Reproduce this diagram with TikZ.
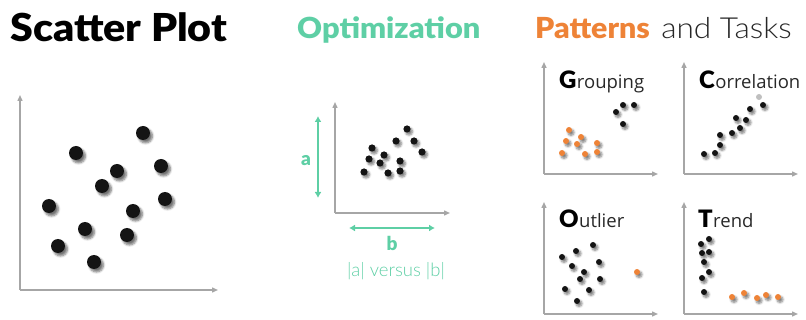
\documentclass[tikz,border=0pt]{standalone}
\usepackage{fontspec}
\setmainfont{Liberation Sans}
\newfontfamily\lightfont{Lato Light}
\newfontfamily\heavyfont{Lato Black}
\newfontfamily\labelfont{Open Sans}
\usetikzlibrary{arrows.meta,shadows.blur}

\definecolor{teal}{RGB}{94,207,165}
\definecolor{accent}{RGB}{238,131,55}
\definecolor{axisgray}{RGB}{166,166,166}
\definecolor{ink}{RGB}{20,20,20}
\definecolor{labelgray}{RGB}{40,40,40}

\tikzset{
  axis/.style={draw=axisgray, line width=1.4pt, -{Triangle[length=6pt,width=5pt]}},
  bigdot/.style={fill=ink, blur shadow={shadow xshift=2.5pt, shadow yshift=-3pt, shadow blur steps=6, shadow opacity=55}},
  smalldot/.style={fill=ink, blur shadow={shadow xshift=2pt, shadow yshift=-2.5pt, shadow blur steps=5, shadow opacity=50}},
  orangedot/.style={fill=accent, blur shadow={shadow xshift=2pt, shadow yshift=-2.5pt, shadow blur steps=5, shadow opacity=50}},
  greydot/.style={fill=black!25},
  measure/.style={draw=teal, line width=2pt, {Latex[length=6pt,width=7pt]}-{Latex[length=6pt,width=7pt]}},
  title/.style={anchor=base west, inner sep=0pt, font=\heavyfont\fontsize{29}{30}\selectfont},
  initial/.style={anchor=base west, inner sep=0pt, font=\heavyfont\fontsize{24}{26}\selectfont, text=black},
  rest/.style={anchor=base west, inner sep=0pt, font=\labelfont\fontsize{18.5}{20}\selectfont, text=labelgray},
}

\begin{document}
\begin{tikzpicture}[x=1pt,y=-1pt]
\useasboundingbox (0,0) rectangle (806,320);

% ---------- Scatter Plot ----------
\node[title, font=\heavyfont\fontsize{38.5}{40}\selectfont, text=black] (sptitle) at (10,42) {\scalebox{1.07}[1]{Scatter Plot}};
\coordinate (so) at (20,290);
\coordinate (sy) at (20,95);
\coordinate (sx) at (218,290);
\draw[axis] (so) -- (sy);
\draw[axis] (so) -- (sx);
\foreach \px/\py in {143/133,76/153,161/166,117/171,102/186,165/199,49/206,133/211,85/229,127/235,58/246,94/262}
  \fill[bigdot] (\px,\py) circle (7pt);

% ---------- Optimization ----------
\node[title, text=teal] (optitle) at (297,38.5) {\scalebox{1.06}[1]{Optimization}};
\coordinate (oo) at (335,213);
\coordinate (oy) at (335,102);
\coordinate (ox) at (450,213);
\draw[axis] (oo) -- (oy);
\draw[axis] (oo) -- (ox);
\foreach \px/\py in {407/129,396/141,414/141,372/148,422/152,384/155,369/159,380/163,400/161,364/172,388/173,400/171}
  \fill[smalldot] (\px,\py) circle (3.6pt);
\coordinate (atop) at (318,116);
\coordinate (abot) at (318,198);
\draw[measure] (atop) -- (abot);
\node[font=\heavyfont\fontsize{19}{20}\selectfont, text=teal] (alabel) at (306,161) {a};
\coordinate (bleft) at (349,228);
\coordinate (bright) at (435,228);
\draw[measure] (bleft) -- (bright);
\node[font=\heavyfont\fontsize{19}{20}\selectfont, text=teal] (blabel) at (392,243) {b};
\node[font=\lightfont\fontsize{18.5}{19}\selectfont, text=teal] (versus) at (396,271) {|a| versus |b|};

% ---------- Patterns and Tasks ----------
\node[title, text=accent] (pattitle) at (535,39) {\scalebox{1.045}[1]{Patterns}};
\node[anchor=base west, inner sep=0pt, font=\lightfont\fontsize{29}{30}\selectfont, text=black!85] (tasktitle) at ([xshift=11pt]pattitle.base east) {\scalebox{1.09}[1]{and Tasks}};

% Grouping
\coordinate (go) at (544,174);
\coordinate (gy) at (544,62);
\coordinate (gx) at (658,174);
\draw[axis] (go) -- (gy);
\draw[axis] (go) -- (gx);
\node[initial] (gG) at (559,89) {G};
\node[rest] (gtext) at (gG.base east) {rouping};
\foreach \px/\py in {623/105,634/105,616/112,623/124}
  \fill[smalldot] (\px,\py) circle (3pt);
\foreach \px/\py in {569/130,581/137,566/141,577/144,597/143,562/153,585/154,597/152}
  \fill[orangedot] (\px,\py) circle (3pt);

% Correlation
\coordinate (co) at (684,174);
\coordinate (cy) at (684,62);
\coordinate (cx) at (798,174);
\draw[axis] (co) -- (cy);
\draw[axis] (co) -- (cx);
\node[initial] (cC) at (699,89) {C};
\node[rest] (ctext) at (cC.base east) {orrelation};
\fill[greydot] (759,97) circle (3pt);
\foreach \px/\py in {763/105,750/109,736/118,746/120,740/128,732/133,720/135,720/145,715/153,704/154}
  \fill[smalldot] (\px,\py) circle (3pt);

% Outlier
\coordinate (uo) at (544,314);
\coordinate (uy) at (544,202);
\coordinate (ux) at (658,314);
\draw[axis] (uo) -- (uy);
\draw[axis] (uo) -- (ux);
\node[initial] (uO) at (559,228) {O};
\node[rest] (utext) at (uO.base east) {utlier};
\foreach \px/\py in {593/245,576/251,562/257,599/262,572/266,584/272,580/279,600/279,565/289,589/290,577/301}
  \fill[smalldot] (\px,\py) circle (3pt);
\fill[orangedot] (637,272) circle (3pt);

% Trend
\coordinate (to) at (684,314);
\coordinate (ty) at (684,202);
\coordinate (tx) at (798,314);
\draw[axis] (to) -- (ty);
\draw[axis] (to) -- (tx);
\node[initial] (tT) at (698,228) {T};
\node[rest] (ttext) at (tT.base east) {rend};
\foreach \px/\py in {709/239,701/244,702/253,709/252,704/262,709/272,702/278,704/292}
  \fill[smalldot] (\px,\py) circle (3pt);
\foreach \px/\py in {732/297,744/293,757/298,766/295,778/297}
  \fill[orangedot] (\px,\py) circle (3pt);
\end{tikzpicture}
\end{document}
